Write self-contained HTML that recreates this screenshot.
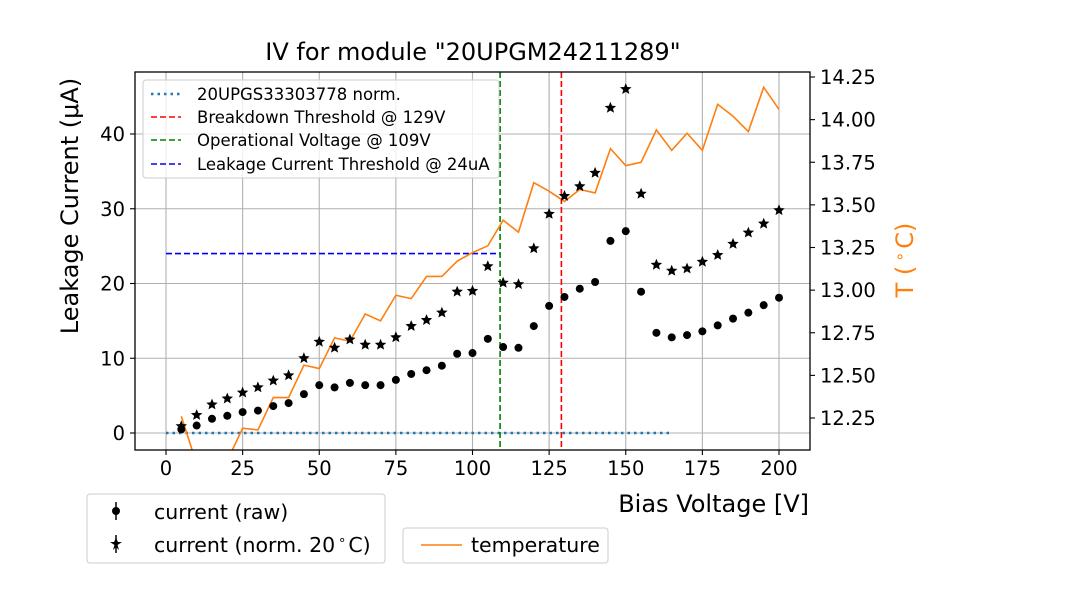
<!DOCTYPE html>
<html><head><meta charset="utf-8"><style>
body{margin:0;background:#fff;}
svg{display:block;font-family:"DejaVu Sans","Liberation Sans",sans-serif;}
</style></head><body>
<svg id="chart" width="1080" height="600" viewBox="0 0 1080 600" xmlns="http://www.w3.org/2000/svg">
<rect width="1080" height="600" fill="#fff"/>
<g id="grid"></g>
<g id="marks"></g>
<g id="axes"></g>
</svg>
<script>
const voltages=[5,10,15,20,25,30,35,40,45,50,55,60,65,70,75,80,85,90,95,100,105,110,115,120,125,130,135,140,145,150,155,160,165,170,175,180,185,190,195,200];
const rawCurrent=[0.5,1.0,1.9,2.3,2.8,3.0,3.6,4.0,5.2,6.4,6.1,6.7,6.4,6.4,7.1,7.9,8.4,9.0,10.6,10.7,12.6,11.5,11.4,14.3,17.0,18.2,19.3,20.2,25.7,27.0,18.9,13.4,12.8,13.1,13.6,14.4,15.3,16.1,17.1,18.1];
const normCurrent=[0.9,2.4,3.8,4.6,5.4,6.1,7.0,7.7,10.0,12.2,11.4,12.5,11.8,11.8,12.8,14.3,15.1,16.1,18.9,19.0,22.3,20.1,19.9,24.7,29.3,31.7,33.0,34.8,43.5,46.0,32.0,22.5,21.7,22.0,22.9,23.8,25.3,26.8,28.0,29.8];
const temperature=[12.26,11.98,11.95,12.0,12.19,12.18,12.37,12.37,12.56,12.54,12.72,12.70,12.86,12.82,12.97,12.95,13.08,13.08,13.17,13.22,13.26,13.41,13.34,13.63,13.58,13.52,13.59,13.57,13.83,13.73,13.75,13.94,13.82,13.92,13.82,14.09,14.02,13.93,14.19,14.06];
const xTicks=[0,25,50,75,100,125,150,175,200];
const yTicks=[0,10,20,30,40];
const tTicks=[12.25,12.5,12.75,13.0,13.25,13.5,13.75,14.0,14.25];
const refRange=[0,165];
const breakdownV=129, operationalV=109, leakageI=24;

const L=135,R=810,T=72,B=450;
const xs=v=>166+(v)*(779-166)/200;
const ys=i=>433-i*(433-134)/40;
const ts=t=>418-(t-12.25)*(418-77)/2;
const NS='http://www.w3.org/2000/svg';
function mk(tag,attrs,parent,text){const e=document.createElementNS(NS,tag);for(const k in attrs)e.setAttribute(k,attrs[k]);if(text!==undefined)e.textContent=text;parent.appendChild(e);return e;}
const grid=document.getElementById('grid'),marks=document.getElementById('marks'),axes=document.getElementById('axes');
const svg=document.getElementById('chart');

const defs=mk('defs',{},svg);const cp=mk('clipPath',{id:'pc'},defs);mk('rect',{x:L,y:T,width:R-L,height:B-T},cp);
marks.setAttribute('clip-path','url(#pc)');

xTicks.forEach(v=>{const x=xs(v);
 const g=mk('line',{x1:x,x2:x,y1:T,y2:B,stroke:'#b0b0b0','stroke-width':1.1},grid);
 
 mk('line',{x1:x,x2:x,y1:B,y2:B+5,stroke:'#000','stroke-width':1.1},axes);
 const t=mk('text',{x:x,y:B+25,'font-size':19.5,'text-anchor':'middle'},axes,String(v));
 });
yTicks.forEach(v=>{const y=ys(v);
 const g=mk('line',{x1:L,x2:R,y1:y,y2:y,stroke:'#b0b0b0','stroke-width':1.1},grid);
 
 mk('line',{x1:L-5,x2:L,y1:y,y2:y,stroke:'#000','stroke-width':1.1},axes);
 const t=mk('text',{x:L-10,y:y+7,'font-size':19.5,'text-anchor':'end'},axes,String(v));
 });
tTicks.forEach(v=>{const y=ts(v);
 mk('line',{x1:R,x2:R+5,y1:y,y2:y,stroke:'#000','stroke-width':1.1},axes);
 const t=mk('text',{x:R+10,y:y+7,'font-size':19.5},axes,v.toFixed(2));
 });

let e;
e=mk('line',{x1:xs(refRange[0]),x2:xs(refRange[1]),y1:ys(0),y2:ys(0),stroke:'#1f77b4','stroke-width':2.5,'stroke-dasharray':'2.5 4'},marks);

e=mk('line',{x1:xs(0),x2:xs(operationalV),y1:ys(leakageI),y2:ys(leakageI),stroke:'#0000ff','stroke-width':1.6,'stroke-dasharray':'6 3'},marks);

e=mk('line',{x1:xs(breakdownV),x2:xs(breakdownV),y1:T,y2:B,stroke:'#ff0000','stroke-width':1.6,'stroke-dasharray':'6 3'},marks);

e=mk('line',{x1:xs(operationalV),x2:xs(operationalV),y1:T,y2:B,stroke:'#008000','stroke-width':1.6,'stroke-dasharray':'6 3'},marks);


e=mk('polyline',{points:voltages.map((v,i)=>xs(v)+','+ts(temperature[i])).join(' '),fill:'none',stroke:'#ff7f0e','stroke-width':1.6},marks);


function star(cx,cy,r){let p=[];for(let k=0;k<10;k++){const a=-Math.PI/2+k*Math.PI/5;const rr=k%2?r*0.45:r;p.push((cx+rr*Math.cos(a)).toFixed(1)+','+(cy+rr*Math.sin(a)).toFixed(1));}return p.join(' ');}
voltages.forEach((v,i)=>{
 const c=mk('circle',{cx:xs(v),cy:ys(rawCurrent[i]),r:4,fill:'#000'},marks);
 
 const s=mk('polygon',{points:star(xs(v),ys(normCurrent[i]),6),fill:'#000'},marks);
 
});

e=mk('rect',{x:L,y:T,width:R-L,height:B-T,fill:'none',stroke:'#000','stroke-width':1.3},axes);

</script>
<svg style="position:absolute;left:0;top:0" width="1080" height="600" xmlns="http://www.w3.org/2000/svg">
<text x="473" y="60" font-size="24" text-anchor="middle" font-family="DejaVu Sans,Liberation Sans,sans-serif">IV for module "20UPGM24211289"</text>
<text x="809" y="512" font-size="24" text-anchor="end" font-family="DejaVu Sans,Liberation Sans,sans-serif">Bias Voltage [V]</text>
<text transform="translate(78,206) rotate(-90)" font-size="24" text-anchor="middle" font-family="DejaVu Sans,Liberation Sans,sans-serif">Leakage Current (μA)</text>
<text transform="translate(913,260) rotate(-90)" font-size="24" fill="#ff7f0e" text-anchor="middle" font-family="DejaVu Sans,Liberation Sans,sans-serif">T (<tspan dx="4" font-size="16" dy="-8">∘</tspan><tspan dx="3" dy="8">C)</tspan></text>
<g font-family="DejaVu Sans,Liberation Sans,sans-serif" font-size="16.5">
<rect x="143" y="80" width="356" height="98" rx="3" fill="#fff" fill-opacity="0.8" stroke="#ccc"/>
<line x1="151" x2="181" y1="94" y2="94" stroke="#1f77b4" stroke-width="2.5" stroke-dasharray="2.5 4"/>
<text x="197" y="100">20UPGS33303778 norm.</text>
<line x1="151" x2="181" y1="117" y2="117" stroke="#f00" stroke-width="1.6" stroke-dasharray="6 3"/>
<text x="197" y="123">Breakdown Threshold @ 129V</text>
<line x1="151" x2="181" y1="140" y2="140" stroke="#008000" stroke-width="1.6" stroke-dasharray="6 3"/>
<text x="197" y="146">Operational Voltage @ 109V</text>
<line x1="151" x2="181" y1="164" y2="164" stroke="#00f" stroke-width="1.6" stroke-dasharray="6 3"/>
<text x="197" y="170">Leakage Current Threshold @ 24uA</text>
</g>
<g font-family="DejaVu Sans,Liberation Sans,sans-serif" font-size="20.5">
<rect x="87" y="494" width="298" height="69" rx="3" fill="#fff" stroke="#ccc"/>
<line x1="116" x2="116" y1="502" y2="520" stroke="#000" stroke-width="1.5"/><circle cx="116" cy="511" r="4"/>
<text x="154" y="519">current (raw)</text>
<line x1="116" x2="116" y1="535" y2="553" stroke="#000" stroke-width="1.5"/><polygon points="116,538 118,542 122,542 117.5,545 119,550 116,547 113,550 114.5,545 110,542 114,542"/>
<text x="154" y="552">current (norm. 20<tspan font-size="13" dy="-8" dx="3">∘</tspan><tspan dy="8" dx="2">C)</tspan></text>
</g>
<g font-family="DejaVu Sans,Liberation Sans,sans-serif" font-size="20.5">
<rect x="403" y="528" width="205" height="35" rx="3" fill="#fff" stroke="#ccc"/>
<line x1="421" x2="462" y1="545" y2="545" stroke="#ff7f0e" stroke-width="1.6"/>
<text x="471" y="552">temperature</text>
</g>
</svg>
</body></html>
